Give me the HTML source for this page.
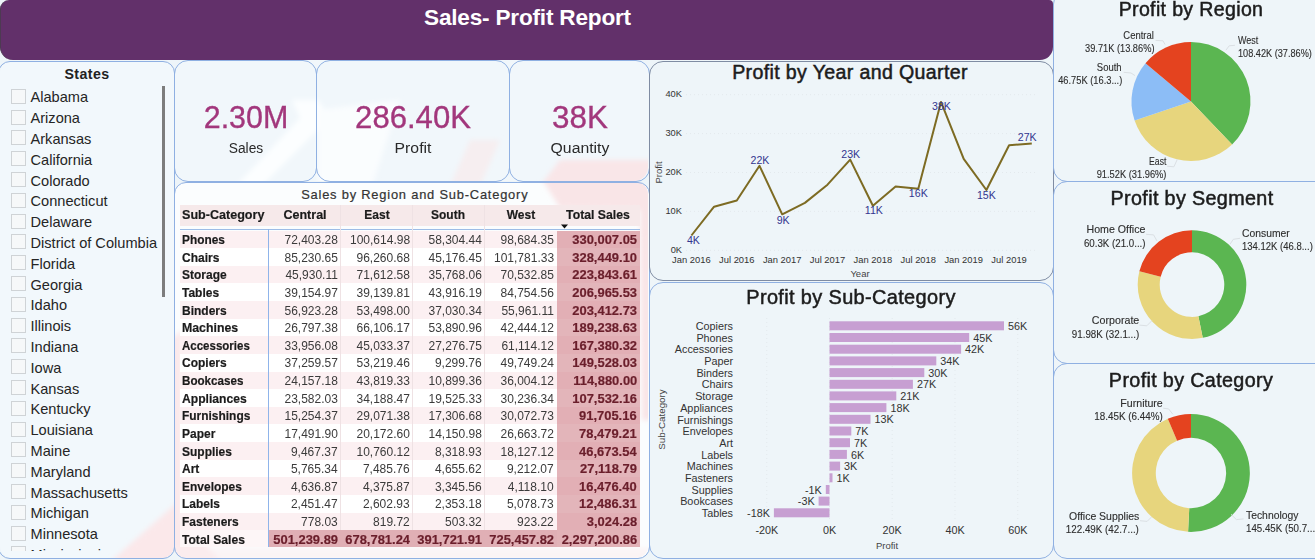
<!DOCTYPE html>
<html><head><meta charset="utf-8"><title>Sales- Profit Report</title>
<style>
*{box-sizing:border-box;margin:0;padding:0}
html,body{width:1315px;height:560px;overflow:hidden}
body{background:#eef5f9;font-family:"Liberation Sans",sans-serif;color:#222;position:relative}
.abs{position:absolute}
.panel{position:absolute;border:1px solid #8fb0e2;border-radius:14px;background:transparent}
.hdr{position:absolute;left:0;top:0;width:1053px;height:60px;background:#62306a;border-radius:9px 4px 13px 13px;border-left:1.5px solid #4d3a52}
.hdr span{position:absolute;left:0;width:1053px;top:15px;text-align:center;color:#fff;font-weight:bold;font-size:22.6px;letter-spacing:-0.2px;line-height:26px}
.ttl{position:absolute;text-align:center;font-size:19.5px;color:#1c1c1c;white-space:nowrap;letter-spacing:0.35px;-webkit-text-stroke:0.5px #1c1c1c}
.st{position:absolute;left:30.5px;font-size:14.6px;color:#252525;white-space:nowrap;line-height:18px}
.cb{position:absolute;left:11px;width:15px;height:15px;border:1px solid #cfd3d6;background:#f6f8f9}
.cv{position:absolute;text-align:center;color:#a2377c;font-size:31px;white-space:nowrap;line-height:34px;transform:scaleX(0.965);-webkit-text-stroke:0.35px #a2377c}
.cl{position:absolute;text-align:center;color:#2a2a2a;font-size:15.5px;white-space:nowrap;line-height:18px}
.t{position:absolute;white-space:nowrap;font-size:13px;line-height:17px;color:#3b3b3b}
.tb,.tt{font-size:13.4px}
.tb{font-weight:bold;color:#1b1b1b;-webkit-text-stroke:0.2px #1b1b1b}
.tt{font-weight:bold;color:#6a1e2b;-webkit-text-stroke:0.2px #6a1e2b}
.lbl{position:absolute;white-space:nowrap;font-size:10.6px;line-height:13px;color:#333}
.pl{font-size:10.2px;color:#2e2e2e;-webkit-text-stroke:0.12px #2e2e2e}
svg{position:absolute;left:0;top:0}
</style></head><body>

<svg width="1315" height="560" viewBox="0 0 1315 560"><defs><filter id="bl" x="-10%" y="-10%" width="120%" height="120%"><feGaussianBlur stdDeviation="2.5"/></filter><clipPath id="cpT"><rect x="174" y="182" width="474" height="376" rx="12"/></clipPath><clipPath id="cpS"><rect x="0" y="61" width="174" height="497" rx="12"/></clipPath><clipPath id="cpC"><rect x="174" y="60" width="474" height="121" rx="14"/></clipPath></defs><rect x="174" y="182" width="475" height="376" rx="12" fill="#fbfdfe"/><rect x="0" y="61" width="174" height="497" rx="12" fill="#f2f8fc"/><rect x="174" y="60" width="475" height="121" rx="14" fill="#f1f7fb"/><g clip-path="url(#cpS)"><polygon filter="url(#bl)" points="110,562 180,562 180,500" fill="#fbe8ea"/></g><g clip-path="url(#cpT)"><g filter="url(#bl)"><polygon points="170,562 222,562 182,520 182,330 170,340" fill="#fbe9eb"/><polygon points="540,176 652,176 652,420 642,420 640,210 560,208" fill="#f9e5e7"/><polygon points="170,548 660,548 660,562 170,562" fill="#fbeef0" opacity="0.6"/></g></g><g clip-path="url(#cpC)"><g filter="url(#bl)"><polygon points="292,100 318,100 330,118 262,186 236,186 300,118" fill="#fcfeff"/><polygon points="318,110 400,100 372,186 318,186" fill="#fafdfe"/><polygon points="560,160 652,160 652,186 540,186" fill="#f9e6e8"/><polygon points="470,140 500,140 480,186 450,186" fill="#f6eef0"/></g></g></svg>
<div class="panel" style="left:-2px;top:61px;width:176.5px;height:497.5px;border-radius:12px"></div>
<div class="panel" style="left:173.5px;top:60px;width:143.0px;height:121.5px;"></div>
<div class="panel" style="left:315.5px;top:60px;width:194.0px;height:121.5px;"></div>
<div class="panel" style="left:508.5px;top:60px;width:141.0px;height:121.5px;"></div>
<div class="panel" style="left:173.5px;top:181.5px;width:476.0px;height:377.0px;border-radius:12px"></div>
<div class="panel" style="left:648.5px;top:60.5px;width:405.0px;height:220.5px;border-color:#7f8ca3"></div>
<div class="panel" style="left:648.5px;top:282px;width:405.0px;height:276.5px;"></div>
<div class="panel" style="left:1052.5px;top:-10px;width:277.5px;height:191.5px;"></div>
<div class="panel" style="left:1052.5px;top:180.5px;width:277.5px;height:183.5px;"></div>
<div class="panel" style="left:1052.5px;top:363px;width:277.5px;height:195.5px;"></div>
<div class="hdr"><span style="top:5px">Sales- Profit Report</span></div>
<div class="abs" style="left:1px;top:66px;width:172px;text-align:center;font-size:14.2px;font-weight:bold;color:#222;letter-spacing:0.4px">States</div>
<div class="abs" style="left:0;top:84px;width:170px;height:467px;overflow:hidden">
<div class="cb" style="top:4.7px"></div><div class="st" style="top:4.4px">Alabama</div>
<div class="cb" style="top:25.5px"></div><div class="st" style="top:25.2px">Arizona</div>
<div class="cb" style="top:46.3px"></div><div class="st" style="top:46.0px">Arkansas</div>
<div class="cb" style="top:67.1px"></div><div class="st" style="top:66.8px">California</div>
<div class="cb" style="top:87.9px"></div><div class="st" style="top:87.6px">Colorado</div>
<div class="cb" style="top:108.7px"></div><div class="st" style="top:108.4px">Connecticut</div>
<div class="cb" style="top:129.5px"></div><div class="st" style="top:129.2px">Delaware</div>
<div class="cb" style="top:150.3px"></div><div class="st" style="top:150.0px">District of Columbia</div>
<div class="cb" style="top:171.1px"></div><div class="st" style="top:170.8px">Florida</div>
<div class="cb" style="top:191.9px"></div><div class="st" style="top:191.6px">Georgia</div>
<div class="cb" style="top:212.7px"></div><div class="st" style="top:212.4px">Idaho</div>
<div class="cb" style="top:233.5px"></div><div class="st" style="top:233.2px">Illinois</div>
<div class="cb" style="top:254.3px"></div><div class="st" style="top:254.0px">Indiana</div>
<div class="cb" style="top:275.1px"></div><div class="st" style="top:274.8px">Iowa</div>
<div class="cb" style="top:295.9px"></div><div class="st" style="top:295.6px">Kansas</div>
<div class="cb" style="top:316.7px"></div><div class="st" style="top:316.4px">Kentucky</div>
<div class="cb" style="top:337.5px"></div><div class="st" style="top:337.2px">Louisiana</div>
<div class="cb" style="top:358.3px"></div><div class="st" style="top:358.0px">Maine</div>
<div class="cb" style="top:379.1px"></div><div class="st" style="top:378.8px">Maryland</div>
<div class="cb" style="top:399.9px"></div><div class="st" style="top:399.6px">Massachusetts</div>
<div class="cb" style="top:420.7px"></div><div class="st" style="top:420.4px">Michigan</div>
<div class="cb" style="top:441.5px"></div><div class="st" style="top:441.2px">Minnesota</div>
<div class="cb" style="top:462.3px"></div><div class="st" style="top:462.0px">Mississippi</div>
</div>
<div class="abs" style="left:161.6px;top:85.5px;width:3.4px;height:211.5px;background:#7d7d7d"></div>
<div class="cv" style="left:145.6px;width:200px;top:99.6px;font-size:32px;transform:scaleX(0.950)">2.30M</div>
<div class="cl" style="left:145.6px;width:200px;top:139px;transform:scaleX(0.890)">Sales</div>
<div class="cv" style="left:312.7px;width:200px;top:99.6px;font-size:32px;transform:scaleX(0.971)">286.40K</div>
<div class="cl" style="left:312.7px;width:200px;top:139px;transform:scaleX(1.017)">Profit</div>
<div class="cv" style="left:480px;width:200px;top:99.6px;font-size:32px;transform:scaleX(0.980)">38K</div>
<div class="cl" style="left:480px;width:200px;top:139px;transform:scaleX(1.019)">Quantity</div>
<div class="abs" style="left:264.79px;top:186.3px;width:300px;text-align:center;font-size:12.9px;color:#333;letter-spacing:0.786px;line-height:17px;white-space:nowrap;-webkit-text-stroke:0.2px #333">Sales by Region and Sub-Category</div>
<div class="abs" style="left:180px;top:205.2px;width:460.29999999999995px;height:20.8px;background:#f6e9ea"></div>
<div class="abs" style="left:180px;top:230.60px;width:460.29999999999995px;height:17.92px;background:#fcf0f2"></div>
<div class="abs" style="left:180px;top:248.22px;width:460.29999999999995px;height:17.92px;background:#ffffff"></div>
<div class="abs" style="left:180px;top:265.84px;width:460.29999999999995px;height:17.92px;background:#fcf0f2"></div>
<div class="abs" style="left:180px;top:283.46px;width:460.29999999999995px;height:17.92px;background:#ffffff"></div>
<div class="abs" style="left:180px;top:301.08px;width:460.29999999999995px;height:17.92px;background:#fcf0f2"></div>
<div class="abs" style="left:180px;top:318.70px;width:460.29999999999995px;height:17.92px;background:#ffffff"></div>
<div class="abs" style="left:180px;top:336.32px;width:460.29999999999995px;height:17.92px;background:#fcf0f2"></div>
<div class="abs" style="left:180px;top:353.94px;width:460.29999999999995px;height:17.92px;background:#ffffff"></div>
<div class="abs" style="left:180px;top:371.56px;width:460.29999999999995px;height:17.92px;background:#fcf0f2"></div>
<div class="abs" style="left:180px;top:389.18px;width:460.29999999999995px;height:17.92px;background:#ffffff"></div>
<div class="abs" style="left:180px;top:406.80px;width:460.29999999999995px;height:17.92px;background:#fcf0f2"></div>
<div class="abs" style="left:180px;top:424.42px;width:460.29999999999995px;height:17.92px;background:#ffffff"></div>
<div class="abs" style="left:180px;top:442.04px;width:460.29999999999995px;height:17.92px;background:#fcf0f2"></div>
<div class="abs" style="left:180px;top:459.66px;width:460.29999999999995px;height:17.92px;background:#ffffff"></div>
<div class="abs" style="left:180px;top:477.28px;width:460.29999999999995px;height:17.92px;background:#fcf0f2"></div>
<div class="abs" style="left:180px;top:494.90px;width:460.29999999999995px;height:17.92px;background:#ffffff"></div>
<div class="abs" style="left:180px;top:512.52px;width:460.29999999999995px;height:17.92px;background:#fcf0f2"></div>
<div class="abs" style="left:180px;top:530.1px;width:460.29999999999995px;height:16.6px;background:#fdf6f7"></div>
<div class="abs" style="left:268px;top:530.1px;width:289px;height:16.6px;background:#e0afb5"></div>
<div class="abs" style="left:557px;top:230.6px;width:83.3px;height:316.2px;background:rgba(210,136,144,0.62)"></div>
<div class="abs" style="left:180px;top:229px;width:460.29999999999995px;height:1px;background:#9dbce6"></div>
<div class="abs" style="left:268px;top:229px;width:1px;height:318px;background:#8fb4ea"></div>
<div class="abs" style="left:340px;top:204.5px;width:1px;height:325.6px;background:#efe2e4"></div>
<div class="abs" style="left:412px;top:204.5px;width:1px;height:325.6px;background:#efe2e4"></div>
<div class="abs" style="left:484px;top:204.5px;width:1px;height:325.6px;background:#efe2e4"></div>
<div class="t tb" style="left:181.5px;top:205.70px;transform-origin:0 50%;transform:scaleX(0.939)">Sub-Category</div>
<div class="t tb" style="left:244.7px;width:120px;text-align:center;top:205.70px;transform:scaleX(0.936)">Central</div>
<div class="t tb" style="left:316.5px;width:120px;text-align:center;top:205.70px;transform:scaleX(0.895)">East</div>
<div class="t tb" style="left:387.8px;width:120px;text-align:center;top:205.70px;transform:scaleX(0.895)">South</div>
<div class="t tb" style="left:460.5px;width:120px;text-align:center;top:205.70px;transform:scaleX(0.895)">West</div>
<div class="t tb" style="left:538.3px;width:120px;text-align:center;top:205.70px;transform:scaleX(0.915)">Total Sales</div>
<svg width="1315" height="560"><polygon points="561,224.5 568,224.5 564.5,228.5" fill="#111"/></svg>
<div class="t tb" style="left:181.7px;top:231.10px;transform-origin:0 50%;transform:scaleX(0.886)">Phones</div>
<div class="t " style="right:977px;top:231.10px;transform-origin:100% 50%;transform:scaleX(0.923)">72,403.28</div>
<div class="t " style="right:905px;top:231.10px;transform-origin:100% 50%;transform:scaleX(0.923)">100,614.98</div>
<div class="t " style="right:833px;top:231.10px;transform-origin:100% 50%;transform:scaleX(0.923)">58,304.44</div>
<div class="t " style="right:761px;top:231.10px;transform-origin:100% 50%;transform:scaleX(0.923)">98,684.35</div>
<div class="t tt" style="right:678px;top:231.10px;transform-origin:100% 50%;transform:scaleX(0.966)">330,007.05</div>
<div class="t tb" style="left:181.7px;top:248.72px;transform-origin:0 50%;transform:scaleX(0.895)">Chairs</div>
<div class="t " style="right:977px;top:248.72px;transform-origin:100% 50%;transform:scaleX(0.923)">85,230.65</div>
<div class="t " style="right:905px;top:248.72px;transform-origin:100% 50%;transform:scaleX(0.923)">96,260.68</div>
<div class="t " style="right:833px;top:248.72px;transform-origin:100% 50%;transform:scaleX(0.923)">45,176.45</div>
<div class="t " style="right:761px;top:248.72px;transform-origin:100% 50%;transform:scaleX(0.923)">101,781.33</div>
<div class="t tt" style="right:678px;top:248.72px;transform-origin:100% 50%;transform:scaleX(0.966)">328,449.10</div>
<div class="t tb" style="left:181.7px;top:266.34px;transform-origin:0 50%;transform:scaleX(0.895)">Storage</div>
<div class="t " style="right:977px;top:266.34px;transform-origin:100% 50%;transform:scaleX(0.923)">45,930.11</div>
<div class="t " style="right:905px;top:266.34px;transform-origin:100% 50%;transform:scaleX(0.923)">71,612.58</div>
<div class="t " style="right:833px;top:266.34px;transform-origin:100% 50%;transform:scaleX(0.923)">35,768.06</div>
<div class="t " style="right:761px;top:266.34px;transform-origin:100% 50%;transform:scaleX(0.923)">70,532.85</div>
<div class="t tt" style="right:678px;top:266.34px;transform-origin:100% 50%;transform:scaleX(0.966)">223,843.61</div>
<div class="t tb" style="left:181.7px;top:283.96px;transform-origin:0 50%;transform:scaleX(0.895)">Tables</div>
<div class="t " style="right:977px;top:283.96px;transform-origin:100% 50%;transform:scaleX(0.923)">39,154.97</div>
<div class="t " style="right:905px;top:283.96px;transform-origin:100% 50%;transform:scaleX(0.923)">39,139.81</div>
<div class="t " style="right:833px;top:283.96px;transform-origin:100% 50%;transform:scaleX(0.923)">43,916.19</div>
<div class="t " style="right:761px;top:283.96px;transform-origin:100% 50%;transform:scaleX(0.923)">84,754.56</div>
<div class="t tt" style="right:678px;top:283.96px;transform-origin:100% 50%;transform:scaleX(0.966)">206,965.53</div>
<div class="t tb" style="left:181.7px;top:301.58px;transform-origin:0 50%;transform:scaleX(0.895)">Binders</div>
<div class="t " style="right:977px;top:301.58px;transform-origin:100% 50%;transform:scaleX(0.923)">56,923.28</div>
<div class="t " style="right:905px;top:301.58px;transform-origin:100% 50%;transform:scaleX(0.923)">53,498.00</div>
<div class="t " style="right:833px;top:301.58px;transform-origin:100% 50%;transform:scaleX(0.923)">37,030.34</div>
<div class="t " style="right:761px;top:301.58px;transform-origin:100% 50%;transform:scaleX(0.923)">55,961.11</div>
<div class="t tt" style="right:678px;top:301.58px;transform-origin:100% 50%;transform:scaleX(0.966)">203,412.73</div>
<div class="t tb" style="left:181.7px;top:319.20px;transform-origin:0 50%;transform:scaleX(0.920)">Machines</div>
<div class="t " style="right:977px;top:319.20px;transform-origin:100% 50%;transform:scaleX(0.923)">26,797.38</div>
<div class="t " style="right:905px;top:319.20px;transform-origin:100% 50%;transform:scaleX(0.923)">66,106.17</div>
<div class="t " style="right:833px;top:319.20px;transform-origin:100% 50%;transform:scaleX(0.923)">53,890.96</div>
<div class="t " style="right:761px;top:319.20px;transform-origin:100% 50%;transform:scaleX(0.923)">42,444.12</div>
<div class="t tt" style="right:678px;top:319.20px;transform-origin:100% 50%;transform:scaleX(0.966)">189,238.63</div>
<div class="t tb" style="left:181.7px;top:336.82px;transform-origin:0 50%;transform:scaleX(0.859)">Accessories</div>
<div class="t " style="right:977px;top:336.82px;transform-origin:100% 50%;transform:scaleX(0.923)">33,956.08</div>
<div class="t " style="right:905px;top:336.82px;transform-origin:100% 50%;transform:scaleX(0.923)">45,033.37</div>
<div class="t " style="right:833px;top:336.82px;transform-origin:100% 50%;transform:scaleX(0.923)">27,276.75</div>
<div class="t " style="right:761px;top:336.82px;transform-origin:100% 50%;transform:scaleX(0.923)">61,114.12</div>
<div class="t tt" style="right:678px;top:336.82px;transform-origin:100% 50%;transform:scaleX(0.966)">167,380.32</div>
<div class="t tb" style="left:181.7px;top:354.44px;transform-origin:0 50%;transform:scaleX(0.895)">Copiers</div>
<div class="t " style="right:977px;top:354.44px;transform-origin:100% 50%;transform:scaleX(0.923)">37,259.57</div>
<div class="t " style="right:905px;top:354.44px;transform-origin:100% 50%;transform:scaleX(0.923)">53,219.46</div>
<div class="t " style="right:833px;top:354.44px;transform-origin:100% 50%;transform:scaleX(0.923)">9,299.76</div>
<div class="t " style="right:761px;top:354.44px;transform-origin:100% 50%;transform:scaleX(0.923)">49,749.24</div>
<div class="t tt" style="right:678px;top:354.44px;transform-origin:100% 50%;transform:scaleX(0.966)">149,528.03</div>
<div class="t tb" style="left:181.7px;top:372.06px;transform-origin:0 50%;transform:scaleX(0.868)">Bookcases</div>
<div class="t " style="right:977px;top:372.06px;transform-origin:100% 50%;transform:scaleX(0.923)">24,157.18</div>
<div class="t " style="right:905px;top:372.06px;transform-origin:100% 50%;transform:scaleX(0.923)">43,819.33</div>
<div class="t " style="right:833px;top:372.06px;transform-origin:100% 50%;transform:scaleX(0.923)">10,899.36</div>
<div class="t " style="right:761px;top:372.06px;transform-origin:100% 50%;transform:scaleX(0.923)">36,004.12</div>
<div class="t tt" style="right:678px;top:372.06px;transform-origin:100% 50%;transform:scaleX(0.966)">114,880.00</div>
<div class="t tb" style="left:181.7px;top:389.68px;transform-origin:0 50%;transform:scaleX(0.905)">Appliances</div>
<div class="t " style="right:977px;top:389.68px;transform-origin:100% 50%;transform:scaleX(0.923)">23,582.03</div>
<div class="t " style="right:905px;top:389.68px;transform-origin:100% 50%;transform:scaleX(0.923)">34,188.47</div>
<div class="t " style="right:833px;top:389.68px;transform-origin:100% 50%;transform:scaleX(0.923)">19,525.33</div>
<div class="t " style="right:761px;top:389.68px;transform-origin:100% 50%;transform:scaleX(0.923)">30,236.34</div>
<div class="t tt" style="right:678px;top:389.68px;transform-origin:100% 50%;transform:scaleX(0.966)">107,532.16</div>
<div class="t tb" style="left:181.7px;top:407.30px;transform-origin:0 50%;transform:scaleX(0.892)">Furnishings</div>
<div class="t " style="right:977px;top:407.30px;transform-origin:100% 50%;transform:scaleX(0.923)">15,254.37</div>
<div class="t " style="right:905px;top:407.30px;transform-origin:100% 50%;transform:scaleX(0.923)">29,071.38</div>
<div class="t " style="right:833px;top:407.30px;transform-origin:100% 50%;transform:scaleX(0.923)">17,306.68</div>
<div class="t " style="right:761px;top:407.30px;transform-origin:100% 50%;transform:scaleX(0.923)">30,072.73</div>
<div class="t tt" style="right:678px;top:407.30px;transform-origin:100% 50%;transform:scaleX(0.966)">91,705.16</div>
<div class="t tb" style="left:181.7px;top:424.92px;transform-origin:0 50%;transform:scaleX(0.895)">Paper</div>
<div class="t " style="right:977px;top:424.92px;transform-origin:100% 50%;transform:scaleX(0.923)">17,491.90</div>
<div class="t " style="right:905px;top:424.92px;transform-origin:100% 50%;transform:scaleX(0.923)">20,172.60</div>
<div class="t " style="right:833px;top:424.92px;transform-origin:100% 50%;transform:scaleX(0.923)">14,150.98</div>
<div class="t " style="right:761px;top:424.92px;transform-origin:100% 50%;transform:scaleX(0.923)">26,663.72</div>
<div class="t tt" style="right:678px;top:424.92px;transform-origin:100% 50%;transform:scaleX(0.966)">78,479.21</div>
<div class="t tb" style="left:181.7px;top:442.54px;transform-origin:0 50%;transform:scaleX(0.895)">Supplies</div>
<div class="t " style="right:977px;top:442.54px;transform-origin:100% 50%;transform:scaleX(0.923)">9,467.37</div>
<div class="t " style="right:905px;top:442.54px;transform-origin:100% 50%;transform:scaleX(0.923)">10,760.12</div>
<div class="t " style="right:833px;top:442.54px;transform-origin:100% 50%;transform:scaleX(0.923)">8,318.93</div>
<div class="t " style="right:761px;top:442.54px;transform-origin:100% 50%;transform:scaleX(0.923)">18,127.12</div>
<div class="t tt" style="right:678px;top:442.54px;transform-origin:100% 50%;transform:scaleX(0.966)">46,673.54</div>
<div class="t tb" style="left:181.7px;top:460.16px;transform-origin:0 50%;transform:scaleX(0.895)">Art</div>
<div class="t " style="right:977px;top:460.16px;transform-origin:100% 50%;transform:scaleX(0.923)">5,765.34</div>
<div class="t " style="right:905px;top:460.16px;transform-origin:100% 50%;transform:scaleX(0.923)">7,485.76</div>
<div class="t " style="right:833px;top:460.16px;transform-origin:100% 50%;transform:scaleX(0.923)">4,655.62</div>
<div class="t " style="right:761px;top:460.16px;transform-origin:100% 50%;transform:scaleX(0.923)">9,212.07</div>
<div class="t tt" style="right:678px;top:460.16px;transform-origin:100% 50%;transform:scaleX(0.966)">27,118.79</div>
<div class="t tb" style="left:181.7px;top:477.78px;transform-origin:0 50%;transform:scaleX(0.895)">Envelopes</div>
<div class="t " style="right:977px;top:477.78px;transform-origin:100% 50%;transform:scaleX(0.923)">4,636.87</div>
<div class="t " style="right:905px;top:477.78px;transform-origin:100% 50%;transform:scaleX(0.923)">4,375.87</div>
<div class="t " style="right:833px;top:477.78px;transform-origin:100% 50%;transform:scaleX(0.923)">3,345.56</div>
<div class="t " style="right:761px;top:477.78px;transform-origin:100% 50%;transform:scaleX(0.923)">4,118.10</div>
<div class="t tt" style="right:678px;top:477.78px;transform-origin:100% 50%;transform:scaleX(0.966)">16,476.40</div>
<div class="t tb" style="left:181.7px;top:495.40px;transform-origin:0 50%;transform:scaleX(0.895)">Labels</div>
<div class="t " style="right:977px;top:495.40px;transform-origin:100% 50%;transform:scaleX(0.923)">2,451.47</div>
<div class="t " style="right:905px;top:495.40px;transform-origin:100% 50%;transform:scaleX(0.923)">2,602.93</div>
<div class="t " style="right:833px;top:495.40px;transform-origin:100% 50%;transform:scaleX(0.923)">2,353.18</div>
<div class="t " style="right:761px;top:495.40px;transform-origin:100% 50%;transform:scaleX(0.923)">5,078.73</div>
<div class="t tt" style="right:678px;top:495.40px;transform-origin:100% 50%;transform:scaleX(0.966)">12,486.31</div>
<div class="t tb" style="left:181.7px;top:513.02px;transform-origin:0 50%;transform:scaleX(0.895)">Fasteners</div>
<div class="t " style="right:977px;top:513.02px;transform-origin:100% 50%;transform:scaleX(0.923)">778.03</div>
<div class="t " style="right:905px;top:513.02px;transform-origin:100% 50%;transform:scaleX(0.923)">819.72</div>
<div class="t " style="right:833px;top:513.02px;transform-origin:100% 50%;transform:scaleX(0.923)">503.32</div>
<div class="t " style="right:761px;top:513.02px;transform-origin:100% 50%;transform:scaleX(0.923)">923.22</div>
<div class="t tt" style="right:678px;top:513.02px;transform-origin:100% 50%;transform:scaleX(0.966)">3,024.28</div>
<div class="t tb" style="left:181.7px;top:530.64px;transform-origin:0 50%;transform:scaleX(0.902)">Total Sales</div>
<div class="t tt" style="right:977px;top:530.64px;transform-origin:100% 50%;transform:scaleX(0.966)">501,239.89</div>
<div class="t tt" style="right:905px;top:530.64px;transform-origin:100% 50%;transform:scaleX(0.966)">678,781.24</div>
<div class="t tt" style="right:833px;top:530.64px;transform-origin:100% 50%;transform:scaleX(0.966)">391,721.91</div>
<div class="t tt" style="right:761px;top:530.64px;transform-origin:100% 50%;transform:scaleX(0.966)">725,457.82</div>
<div class="t tt" style="right:678px;top:530.64px;transform-origin:100% 50%;transform:scaleX(0.966)">2,297,200.86</div>
<div class="ttl" style="left:700px;width:300px;top:60.400000000000006px;line-height:24px;font-size:19.6px;transform:scaleX(1.000)">Profit by Year and Quarter</div>
<svg width="1315" height="560" viewBox="0 0 1315 560"><line x1="686" x2="1036" y1="250.3" y2="250.3" stroke="#e3e9ed" stroke-width="1" stroke-dasharray="1,3"/><line x1="686" x2="1036" y1="211.4" y2="211.4" stroke="#e3e9ed" stroke-width="1" stroke-dasharray="1,3"/><line x1="686" x2="1036" y1="172.5" y2="172.5" stroke="#e3e9ed" stroke-width="1" stroke-dasharray="1,3"/><line x1="686" x2="1036" y1="133.6" y2="133.6" stroke="#e3e9ed" stroke-width="1" stroke-dasharray="1,3"/><line x1="686" x2="1036" y1="94.7" y2="94.7" stroke="#e3e9ed" stroke-width="1" stroke-dasharray="1,3"/><polyline fill="none" stroke="#7d6b23" stroke-width="2" stroke-linejoin="round" points="691.4,235.5 714.1,206.7 736.8,200.5 759.5,165.8 782.2,214.3 804.9,202.9 827.5,184.7 850.2,159.6 872.9,205.8 895.6,186.5 918.3,188.7 941.0,101.9 963.7,158.9 986.4,190.0 1009.1,145.3 1031.8,143.5"/></svg>
<div class="lbl" style="left:650px;width:32px;text-align:right;top:244.0px;font-size:9.3px">0K</div>
<div class="lbl" style="left:650px;width:32px;text-align:right;top:205.1px;font-size:9.3px">10K</div>
<div class="lbl" style="left:650px;width:32px;text-align:right;top:166.2px;font-size:9.3px">20K</div>
<div class="lbl" style="left:650px;width:32px;text-align:right;top:127.3px;font-size:9.3px">30K</div>
<div class="lbl" style="left:650px;width:32px;text-align:right;top:88.4px;font-size:9.3px">40K</div>
<div class="lbl" style="left:661.4px;width:60px;text-align:center;top:252.5px;font-size:9.4px">Jan 2016</div>
<div class="lbl" style="left:706.8px;width:60px;text-align:center;top:252.5px;font-size:9.4px">Jul 2016</div>
<div class="lbl" style="left:752.2px;width:60px;text-align:center;top:252.5px;font-size:9.4px">Jan 2017</div>
<div class="lbl" style="left:797.5px;width:60px;text-align:center;top:252.5px;font-size:9.4px">Jul 2017</div>
<div class="lbl" style="left:842.9px;width:60px;text-align:center;top:252.5px;font-size:9.4px">Jan 2018</div>
<div class="lbl" style="left:888.3px;width:60px;text-align:center;top:252.5px;font-size:9.4px">Jul 2018</div>
<div class="lbl" style="left:933.7px;width:60px;text-align:center;top:252.5px;font-size:9.4px">Jan 2019</div>
<div class="lbl" style="left:979.1px;width:60px;text-align:center;top:252.5px;font-size:9.4px">Jul 2019</div>
<div class="lbl" style="left:830px;width:60px;text-align:center;top:267px;font-size:9.5px;color:#444">Year</div>
<div class="lbl" style="left:628px;top:166px;width:60px;text-align:center;transform:rotate(-90deg);font-size:9.5px;color:#444">Profit</div>
<div class="lbl" style="left:673.4px;width:40px;text-align:center;top:234.4px;font-size:10.6px;color:#33368f">4K</div>
<div class="lbl" style="left:740.0px;width:40px;text-align:center;top:154.2px;font-size:10.6px;color:#33368f">22K</div>
<div class="lbl" style="left:763.2px;width:40px;text-align:center;top:213.7px;font-size:10.6px;color:#33368f">9K</div>
<div class="lbl" style="left:830.7px;width:40px;text-align:center;top:147.5px;font-size:10.6px;color:#33368f">23K</div>
<div class="lbl" style="left:853.9px;width:40px;text-align:center;top:204.2px;font-size:10.6px;color:#33368f">11K</div>
<div class="lbl" style="left:898.3px;width:40px;text-align:center;top:187.1px;font-size:10.6px;color:#33368f">16K</div>
<div class="lbl" style="left:921.5px;width:40px;text-align:center;top:99.8px;font-size:10.6px;color:#33368f">38K</div>
<div class="lbl" style="left:966.4px;width:40px;text-align:center;top:188.9px;font-size:10.6px;color:#33368f">15K</div>
<div class="lbl" style="left:1007.2px;width:40px;text-align:center;top:131.4px;font-size:10.6px;color:#33368f">27K</div>
<div class="ttl" style="left:701.2px;width:300px;top:285.3px;line-height:24px;font-size:19.6px;transform:scaleX(1.017)">Profit by Sub-Category</div>
<svg width="1315" height="560" viewBox="0 0 1315 560"><line x1="766.8" x2="766.8" y1="318" y2="520" stroke="#e3e9ed" stroke-width="1" stroke-dasharray="1,3"/><line x1="829.5" x2="829.5" y1="318" y2="520" stroke="#e3e9ed" stroke-width="1" stroke-dasharray="1,3"/><line x1="892.2" x2="892.2" y1="318" y2="520" stroke="#e3e9ed" stroke-width="1" stroke-dasharray="1,3"/><line x1="955.0" x2="955.0" y1="318" y2="520" stroke="#e3e9ed" stroke-width="1" stroke-dasharray="1,3"/><line x1="1017.8" x2="1017.8" y1="318" y2="520" stroke="#e3e9ed" stroke-width="1" stroke-dasharray="1,3"/><rect x="829.5" y="321.3" width="174.5" height="9" fill="#c79fd2"/><rect x="829.5" y="333.0" width="139.7" height="9" fill="#c79fd2"/><rect x="829.5" y="344.7" width="131.6" height="9" fill="#c79fd2"/><rect x="829.5" y="356.4" width="106.8" height="9" fill="#c79fd2"/><rect x="829.5" y="368.1" width="94.8" height="9" fill="#c79fd2"/><rect x="829.5" y="379.8" width="83.4" height="9" fill="#c79fd2"/><rect x="829.5" y="391.4" width="66.8" height="9" fill="#c79fd2"/><rect x="829.5" y="403.1" width="56.9" height="9" fill="#c79fd2"/><rect x="829.5" y="414.8" width="41.0" height="9" fill="#c79fd2"/><rect x="829.5" y="426.5" width="21.8" height="9" fill="#c79fd2"/><rect x="829.5" y="438.2" width="20.5" height="9" fill="#c79fd2"/><rect x="829.5" y="449.9" width="17.4" height="9" fill="#c79fd2"/><rect x="829.5" y="461.6" width="10.6" height="9" fill="#c79fd2"/><rect x="829.5" y="473.3" width="3.0" height="9" fill="#c79fd2"/><rect x="825.8" y="485.0" width="3.7" height="9" fill="#c79fd2"/><rect x="818.6" y="496.6" width="10.9" height="9" fill="#c79fd2"/><rect x="773.9" y="508.3" width="55.6" height="9" fill="#c79fd2"/></svg>
<div class="lbl" style="right:582px;top:320.0px;font-size:10.8px">Copiers</div>
<div class="lbl" style="left:1008.0px;top:319.9px;font-size:10.8px">56K</div>
<div class="lbl" style="right:582px;top:331.7px;font-size:10.8px">Phones</div>
<div class="lbl" style="left:973.2px;top:331.6px;font-size:10.8px">45K</div>
<div class="lbl" style="right:582px;top:343.4px;font-size:10.8px">Accessories</div>
<div class="lbl" style="left:965.1px;top:343.3px;font-size:10.8px">42K</div>
<div class="lbl" style="right:582px;top:355.1px;font-size:10.8px">Paper</div>
<div class="lbl" style="left:940.3px;top:355.0px;font-size:10.8px">34K</div>
<div class="lbl" style="right:582px;top:366.8px;font-size:10.8px">Binders</div>
<div class="lbl" style="left:928.3px;top:366.7px;font-size:10.8px">30K</div>
<div class="lbl" style="right:582px;top:378.4px;font-size:10.8px">Chairs</div>
<div class="lbl" style="left:916.9px;top:378.4px;font-size:10.8px">27K</div>
<div class="lbl" style="right:582px;top:390.1px;font-size:10.8px">Storage</div>
<div class="lbl" style="left:900.3px;top:390.0px;font-size:10.8px">21K</div>
<div class="lbl" style="right:582px;top:401.8px;font-size:10.8px">Appliances</div>
<div class="lbl" style="left:890.4px;top:401.7px;font-size:10.8px">18K</div>
<div class="lbl" style="right:582px;top:413.5px;font-size:10.8px">Furnishings</div>
<div class="lbl" style="left:874.5px;top:413.4px;font-size:10.8px">13K</div>
<div class="lbl" style="right:582px;top:425.2px;font-size:10.8px">Envelopes</div>
<div class="lbl" style="left:855.3px;top:425.1px;font-size:10.8px">7K</div>
<div class="lbl" style="right:582px;top:436.9px;font-size:10.8px">Art</div>
<div class="lbl" style="left:854.0px;top:436.8px;font-size:10.8px">7K</div>
<div class="lbl" style="right:582px;top:448.6px;font-size:10.8px">Labels</div>
<div class="lbl" style="left:850.9px;top:448.5px;font-size:10.8px">6K</div>
<div class="lbl" style="right:582px;top:460.3px;font-size:10.8px">Machines</div>
<div class="lbl" style="left:844.1px;top:460.2px;font-size:10.8px">3K</div>
<div class="lbl" style="right:582px;top:472.0px;font-size:10.8px">Fasteners</div>
<div class="lbl" style="left:836.5px;top:471.9px;font-size:10.8px">1K</div>
<div class="lbl" style="right:582px;top:483.7px;font-size:10.8px">Supplies</div>
<div class="lbl" style="right:493.2px;top:483.6px;font-size:10.8px">-1K</div>
<div class="lbl" style="right:582px;top:495.3px;font-size:10.8px">Bookcases</div>
<div class="lbl" style="right:500.4px;top:495.2px;font-size:10.8px">-3K</div>
<div class="lbl" style="right:582px;top:507.0px;font-size:10.8px">Tables</div>
<div class="lbl" style="right:545.1px;top:506.9px;font-size:10.8px">-18K</div>
<div class="lbl" style="left:741.8px;width:50px;text-align:center;top:524px;font-size:10.8px">-20K</div>
<div class="lbl" style="left:804.5px;width:50px;text-align:center;top:524px;font-size:10.8px">0K</div>
<div class="lbl" style="left:867.2px;width:50px;text-align:center;top:524px;font-size:10.8px">20K</div>
<div class="lbl" style="left:930.0px;width:50px;text-align:center;top:524px;font-size:10.8px">40K</div>
<div class="lbl" style="left:992.8px;width:50px;text-align:center;top:524px;font-size:10.8px">60K</div>
<div class="lbl" style="left:857px;width:60px;text-align:center;top:538.5px;font-size:9.5px;color:#444">Profit</div>
<div class="lbl" style="left:621px;top:413px;width:80px;text-align:center;transform:rotate(-90deg);font-size:9.8px;color:#444">Sub-Category</div>
<svg width="1315" height="560" viewBox="0 0 1315 560"><path d="M1191,101.5 L1191.00,42.00 A59.5,59.5 0 0 1 1232.11,144.51 Z" fill="#5bb651"/><path d="M1191,101.5 L1232.11,144.51 A59.5,59.5 0 0 1 1134.62,120.53 Z" fill="#e7d57d"/><path d="M1191,101.5 L1134.62,120.53 A59.5,59.5 0 0 1 1145.49,63.17 Z" fill="#8cbdf6"/><path d="M1191,101.5 L1145.49,63.17 A59.5,59.5 0 0 1 1191.00,42.00 Z" fill="#e4431f"/><path d="M1192.00,230.30 A54.3,54.3 0 0 1 1202.74,337.83 L1198.39,316.26 A32.3,32.3 0 0 0 1192.00,252.30 Z" fill="#5bb651"/><path d="M1202.74,337.83 A54.3,54.3 0 0 1 1139.36,271.26 L1160.69,276.67 A32.3,32.3 0 0 0 1198.39,316.26 Z" fill="#e7d57d"/><path d="M1139.36,271.26 A54.3,54.3 0 0 1 1192.00,230.30 L1192.00,252.30 A32.3,32.3 0 0 0 1160.69,276.67 Z" fill="#e4431f"/><path d="M1191.00,414.10 A58.9,58.9 0 1 1 1188.08,531.83 L1189.25,508.16 A35.2,35.2 0 1 0 1191.00,437.80 Z" fill="#5bb651"/><path d="M1188.08,531.83 A58.9,58.9 0 0 1 1167.81,418.86 L1177.14,440.64 A35.2,35.2 0 0 0 1189.25,508.16 Z" fill="#e7d57d"/><path d="M1167.81,418.86 A58.9,58.9 0 0 1 1191.00,414.10 L1191.00,437.80 A35.2,35.2 0 0 0 1177.14,440.64 Z" fill="#e4431f"/><polyline points="1225.9,50.2 1229.2,45.8 1234.9,45.3" fill="none" stroke="#dbe0e4" stroke-width="1"/><polyline points="1155.6,40.4 1163,40.8 1165,44.5" fill="none" stroke="#dbe0e4" stroke-width="1"/><polyline points="1123.7,72.3 1131,73 1135,75.6" fill="none" stroke="#dbe0e4" stroke-width="1"/><polyline points="1167.2,166.2 1173.9,166.8 1177.3,159.4" fill="none" stroke="#dbe0e4" stroke-width="1"/><polyline points="1146.1,234.3 1153.6,234.9 1157,241" fill="none" stroke="#dbe0e4" stroke-width="1"/><polyline points="1240,238.3 1233.3,239.3 1229.9,244.4" fill="none" stroke="#dbe0e4" stroke-width="1"/><polyline points="1139.4,325.1 1146.8,325.8 1151.9,320.7" fill="none" stroke="#dbe0e4" stroke-width="1"/><polyline points="1163.2,408.2 1168.6,408.9 1172.9,414.3" fill="none" stroke="#dbe0e4" stroke-width="1"/><polyline points="1243.6,518.9 1236.4,519.6 1231,514.3" fill="none" stroke="#dbe0e4" stroke-width="1"/><polyline points="1140,520.7 1147.1,521.4 1151.4,517.1" fill="none" stroke="#dbe0e4" stroke-width="1"/></svg>
<div class="ttl" style="left:1041.4px;width:300px;top:-3.0px;line-height:24px;font-size:19.6px;transform:scaleX(0.998)">Profit by Region</div>
<div class="ttl" style="left:1041.7px;width:300px;top:185.7px;line-height:24px;font-size:19.6px;transform:scaleX(1.008)">Profit by Segment</div>
<div class="ttl" style="left:1041.1px;width:300px;top:367.8px;line-height:24px;font-size:19.6px;transform:scaleX(1.007)">Profit by Category</div>
<div class="lbl pl" style="transform-origin:0 50%;transform:scaleX(0.881);left:1238.3px;top:33.9px;font-size:10.2px">West</div>
<div class="lbl pl" style="transform-origin:0 50%;transform:scaleX(0.899);left:1238.3px;top:47.0px;font-size:10.2px">108.42K (37.86%)</div>
<div class="lbl pl" style="transform-origin:100% 50%;transform:scaleX(0.928);right:160.70000000000005px;top:28.5px;font-size:10.2px">Central</div>
<div class="lbl pl" style="transform-origin:100% 50%;transform:scaleX(0.908);right:160.70000000000005px;top:41.7px;font-size:10.2px">39.71K (13.86%)</div>
<div class="lbl pl" style="transform-origin:100% 50%;transform:scaleX(0.930);right:193.20000000000005px;top:60.5px;font-size:10.2px">South</div>
<div class="lbl pl" style="transform-origin:100% 50%;transform:scaleX(0.912);right:193.20000000000005px;top:73.7px;font-size:10.2px">46.75K (16.3...)</div>
<div class="lbl pl" style="transform-origin:100% 50%;transform:scaleX(0.848);right:148.4000000000001px;top:154.5px;font-size:10.2px">East</div>
<div class="lbl pl" style="transform-origin:100% 50%;transform:scaleX(0.913);right:148.4000000000001px;top:167.8px;font-size:10.2px">91.52K (31.96%)</div>
<div class="lbl pl" style="transform-origin:0 50%;transform:scaleX(1.016);left:1242.1px;top:226.5px;font-size:10.2px">Consumer</div>
<div class="lbl pl" style="transform-origin:0 50%;transform:scaleX(0.933);left:1242.1px;top:239.8px;font-size:10.2px">134.12K (46.8...)</div>
<div class="lbl pl" style="transform-origin:100% 50%;transform:scaleX(1.044);right:169.20000000000005px;top:223.0px;font-size:10.2px">Home Office</div>
<div class="lbl pl" style="transform-origin:100% 50%;transform:scaleX(0.955);right:169.20000000000005px;top:236.5px;font-size:10.2px">60.3K (21.0...)</div>
<div class="lbl pl" style="transform-origin:100% 50%;transform:scaleX(1.047);right:176px;top:313.8px;font-size:10.2px">Corporate</div>
<div class="lbl pl" style="transform-origin:100% 50%;transform:scaleX(0.960);right:176px;top:327.5px;font-size:10.2px">91.98K (32.1...)</div>
<div class="lbl pl" style="transform-origin:0 50%;transform:scaleX(1.017);left:1246px;top:508.5px;font-size:10.2px">Technology</div>
<div class="lbl pl" style="transform-origin:0 50%;transform:scaleX(0.954);left:1246px;top:522.0px;font-size:10.2px">145.45K (50.7...)</div>
<div class="lbl pl" style="transform-origin:100% 50%;transform:scaleX(1.041);right:151.79999999999995px;top:396.5px;font-size:10.2px">Furniture</div>
<div class="lbl pl" style="transform-origin:100% 50%;transform:scaleX(0.968);right:151.79999999999995px;top:410.0px;font-size:10.2px">18.45K (6.44%)</div>
<div class="lbl pl" style="transform-origin:100% 50%;transform:scaleX(1.029);right:176px;top:509.5px;font-size:10.2px">Office Supplies</div>
<div class="lbl pl" style="transform-origin:100% 50%;transform:scaleX(0.963);right:176px;top:523.0px;font-size:10.2px">122.49K (42.7...)</div>
</body></html>
